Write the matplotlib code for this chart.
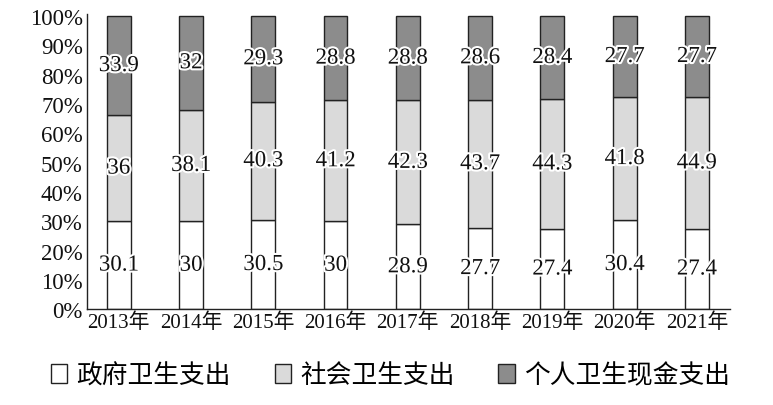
import matplotlib
matplotlib.use("Agg")
import matplotlib.pyplot as plt
import matplotlib.patheffects as pe
import numpy as np

years = ["2013年", "2014年", "2015年", "2016年", "2017年", "2018年", "2019年", "2020年", "2021年"]
gov = [30.1, 30, 30.5, 30, 28.9, 27.7, 27.4, 30.4, 27.4]
soc = [36, 38.1, 40.3, 41.2, 42.3, 43.7, 44.3, 41.8, 44.9]
per = [33.9, 32, 29.3, 28.8, 28.8, 28.6, 28.4, 27.7, 27.7]
series_names = ["政府卫生支出", "社会卫生支出", "个人卫生现金支出"]
colors = ["#ffffff", "#dadada", "#8c8c8c"]
yticks = [0, 10, 20, 30, 40, 50, 60, 70, 80, 90, 100]

fam = ["Liberation Serif", "Noto Sans CJK SC"]
plt.rcParams['font.family'] = fam

fig = plt.figure(figsize=(7.73, 4.06), dpi=100)
ax = fig.add_axes([0.1125, 0.236, 0.832, 0.726])

x = np.arange(len(years))
w = 0.33
data = np.array([gov, soc, per], dtype=float)
total = data.sum(axis=0)
scaled = data / total * 100  # stacked bars fill to 100%
bottom = np.zeros(len(years))
for vals, raw, c, name in zip(scaled, data, colors, series_names):
    ax.bar(x, vals, w, bottom=bottom, color=c, edgecolor="#222222", linewidth=1.0, label=name)
    for xi, b, v, r in zip(x, bottom, vals, raw):
        ax.text(xi, b + v / 2, f"{r:g}", ha="center", va="center", fontsize=16.5,
                family="Liberation Serif", color="#111111",
                path_effects=[pe.withStroke(linewidth=3, foreground="white")])
    bottom += vals

ax.set_xlim(-0.44, 8.46)
ax.set_ylim(0, 100.5)
ax.set_yticks(yticks)
ax.set_yticklabels([f"{t}%" for t in yticks], fontsize=16.5, family="Liberation Serif")
ax.set_xticks(x)
ax.set_xticklabels(years, fontsize=15)
ax.tick_params(axis="y", length=0, pad=3, colors="#111111")
ax.tick_params(axis="x", length=0, pad=2, colors="#111111")
for s in ["top", "right"]:
    ax.spines[s].set_visible(False)
for s in ["left", "bottom"]:
    ax.spines[s].set_color("#222222")
    ax.spines[s].set_linewidth(1.0)

leg = fig.legend(loc="center", bbox_to_anchor=(0.505, 0.073), ncol=3, frameon=False,
                 prop={"family": "Noto Sans CJK SC", "size": 18.5}, handlelength=0.65,
                 handleheight=0.75, handletextpad=0.35, columnspacing=1.7)
for h in leg.legend_handles:
    h.set_edgecolor("#222222")
    h.set_linewidth(1.0)

fig.savefig("out.png", dpi=100)
